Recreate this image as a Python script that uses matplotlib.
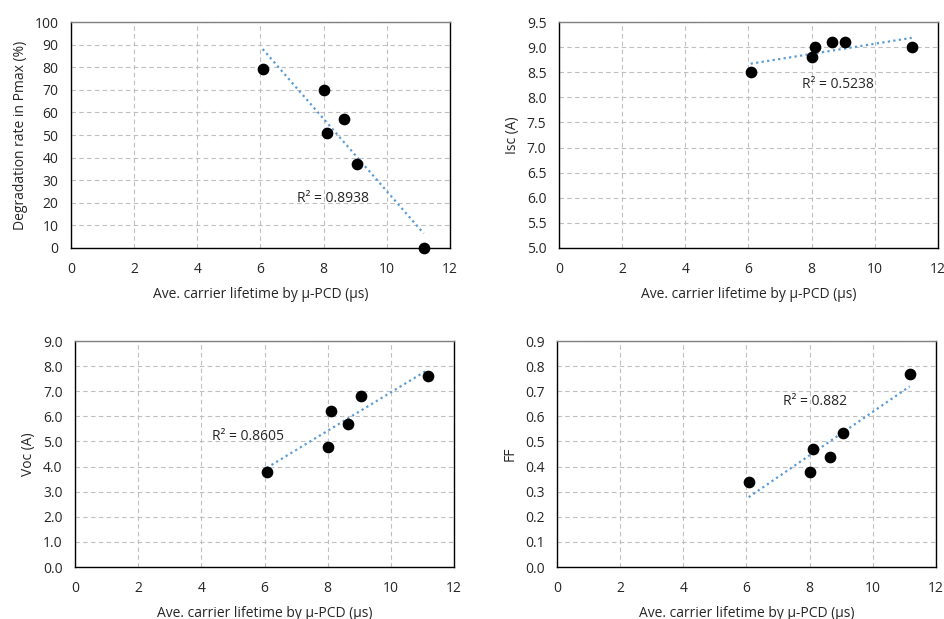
import matplotlib
matplotlib.use("Agg")
import matplotlib.pyplot as plt
import numpy as np

# carrier lifetime (us), shared by all four panels
lifetime = [6.07, 8.0, 8.1, 8.65, 9.07, 11.17]
degradation = [79, 70, 51, 57, 37, 0]
isc = [8.5, 8.8, 9.0, 9.1, 9.1, 9.0]
voc = [3.8, 4.8, 6.2, 5.7, 6.8, 7.6]
ff = [0.34, 0.38, 0.47, 0.44, 0.535, 0.77]
r2_labels = ["R² = 0.8938", "R² = 0.5238", "R² = 0.8605", "R² = 0.882"]
ylabels = ["Degradation rate in Pmax (%)", "Isc (A)", "Voc (A)", "FF"]
xlabel = "Ave. carrier lifetime by \u03bc-PCD (\u03bcs)"

plt.rcParams['font.family'] = ['Open Sans', 'DejaVu Sans']
text_col = '#262626'
fs = 10

fig = plt.figure(figsize=(9.45, 6.19), dpi=100)
boxes = [
    [0.0751, 0.5994, 0.401, 0.365],
    [0.5915, 0.5994, 0.401, 0.365],
    [0.0794, 0.084, 0.401, 0.365],
    [0.5894, 0.084, 0.401, 0.365],
]
series = [degradation, isc, voc, ff]
ylims = [(0, 100), (5.0, 9.5), (0, 9.0), (0, 0.9)]
ysteps = [10, 0.5, 1.0, 0.1]
yfmt = ['{:.0f}', '{:.1f}', '{:.1f}', '{:.1f}']
r2_pos = [(7.15, 22), (7.69, 8.25), (4.34, 5.18), (7.15, 0.66)]

for i in range(4):
    ax = fig.add_axes(boxes[i])
    y = series[i]
    ax.scatter(lifetime, y, s=55, color='black', zorder=3, clip_on=False)
    # linear trend line over the data range
    k, b = np.polyfit(lifetime, y, 1)
    xs = np.array([min(lifetime), max(lifetime)])
    ax.plot(xs, k * xs + b, linestyle=(0, (1, 1.5)), color='#5B9BD5',
            linewidth=1.6, zorder=2)
    ax.text(r2_pos[i][0], r2_pos[i][1], r2_labels[i], fontsize=fs,
            color=text_col, ha='left', va='center')

    ax.set_xlim(0, 12)
    ax.set_ylim(*ylims[i])
    ax.set_xticks(np.arange(0, 13, 2))
    yt = np.arange(ylims[i][0], ylims[i][1] + ysteps[i] / 2, ysteps[i])
    ax.set_yticks(yt)
    ax.set_yticklabels([yfmt[i].format(v) for v in yt])
    ax.tick_params(length=0, labelsize=fs, labelcolor=text_col)
    ax.tick_params(axis='x', pad=10)
    ax.tick_params(axis='y', pad=9)
    ax.grid(True, linestyle=(0, (4, 3)), color='#bfbfbf', linewidth=0.8)
    ax.set_axisbelow(True)
    for side in ['left', 'bottom', 'right']:
        ax.spines[side].set_color('black')
        ax.spines[side].set_linewidth(1.0)
    ax.spines['top'].set_color('#808080')
    ax.spines['top'].set_linewidth(1.0)
    ax.set_xlabel(xlabel, fontsize=fs, color=text_col, labelpad=7)
    ax.set_ylabel(ylabels[i], fontsize=fs, color=text_col, labelpad=5)

fig.savefig("out.png", dpi=100)
